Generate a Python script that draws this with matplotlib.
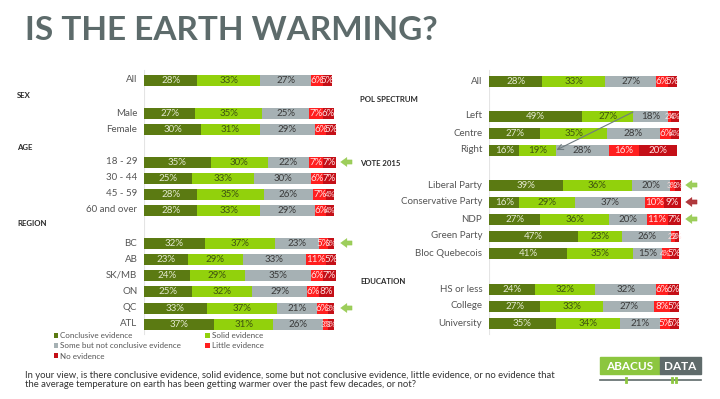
import numpy as np
import matplotlib
matplotlib.use('Agg')
import matplotlib.pyplot as plt

plt.rcParams['font.family'] = ['Lato', 'DejaVu Sans']

# data
series = ['Conclusive evidence', 'Solid evidence', 'Some but not conclusive evidence',
          'Little evidence', 'No evidence']
colors = ['#5b7a12', '#92d10c', '#a6b1b4', '#ff1f1f', '#c40f17']
text_colors = ['#e3e8d0', '#3f5410', '#3a3a3a', '#ffe0e0', '#ffe0e0']

left_groups = ['All', 'Male', 'Female', '18 - 29', '30 - 44', '45 - 59', '60 and over',
               'BC', 'AB', 'SK/MB', 'ON', 'QC', 'ATL']
conclusive_l = [28, 27, 30, 35, 25, 28, 28, 32, 23, 24, 25, 33, 37]
solid_l = [33, 35, 31, 30, 33, 35, 33, 37, 29, 29, 32, 37, 31]
some_l = [27, 25, 29, 22, 30, 26, 29, 23, 33, 35, 29, 21, 26]
little_l = [6, 7, 6, 7, 6, 7, 6, 5, 11, 6, 6, 6, 3]
none_l = [5, 6, 5, 7, 7, 4, 4, 3, 5, 7, 8, 3, 3]

right_groups = ['All', 'Left', 'Centre', 'Right', 'Liberal Party', 'Conservative Party', 'NDP',
                'Green Party', 'Bloc Quebecois', 'HS or less', 'College', 'University']
conclusive_r = [28, 49, 27, 16, 39, 16, 27, 47, 41, 24, 27, 35]
solid_r = [33, 27, 35, 19, 36, 29, 36, 23, 35, 32, 33, 34]
some_r = [27, 18, 28, 28, 20, 37, 20, 26, 15, 32, 27, 21]
little_r = [6, 2, 6, 16, 3, 10, 11, 2, 4, 6, 8, 5]
none_r = [5, 4, 4, 20, 3, 9, 7, 2, 5, 6, 5, 5]

# layout (pixel rows of the 720x399 canvas)
W, H = 720, 399
rows_l = [80, 113, 129, 162, 178, 194, 210, 243, 259, 275, 291, 308, 324]
rows_r = [81, 116, 133, 150, 185, 202, 219, 236, 253, 289, 306, 323]
heads_l = [('SEX', 17, 95), ('AGE', 17, 148), ('REGION', 17, 224)]
heads_r = [('POL SPECTRUM', 360, 100), ('VOTE 2015', 360, 163), ('EDUCATION', 360, 281)]
arrows_l = [('18 - 29', '#8cc63f'), ('BC', '#8cc63f'), ('QC', '#8cc63f')]
arrows_r = [('Liberal Party', '#8cc63f'), ('Conservative Party', '#a3161b'), ('NDP', '#8cc63f')]


def fx(x):
    return x / W


def fy(y):
    return 1 - y / H


fig = plt.figure(figsize=(W / 100, H / 100), dpi=100)
fig.patch.set_facecolor('white')

fig.text(fx(25), fy(30), 'IS THE EARTH WARMING?', fontsize=24, fontweight='bold',
         color='#5d6b6b', va='center', ha='left')


def panel(x0, x1, groups, rows, data, arrows):
    ax = fig.add_axes([fx(x0), fy(340), fx(x1) - fx(x0), (340 - 60) / H])
    ax.set_xlim(0, 100)
    ax.set_ylim(340, 60)
    ax.axis('off')
    ax.plot([0, 0], [70, 334], color='#e4e4e4', lw=0.8, zorder=0)
    left = np.zeros(len(groups))
    handles = []
    for vals, name, c, tc in zip(data, series, colors, text_colors):
        vals = np.array(vals, dtype=float)
        b = ax.barh(rows, vals, left=left, height=11, color=c, label=name,
                    edgecolor='none', clip_on=False)
        handles.append(b)
        for yv, l, v in zip(rows, left, vals):
            fs = 7 if v >= 5 else 5.5
            ax.text(l + v / 2, yv + 0.5, f'{int(v)}%', ha='center', va='center',
                    fontsize=fs, color=tc)
        left += vals
    for g, yv in zip(groups, rows):
        ax.text(-3.5, yv, g, ha='right', va='center', fontsize=7, color='#555555')
    for g, c in arrows:
        yv = rows[groups.index(g)]
        ax.annotate('', xy=(103.5, yv), xytext=(109.5, yv), annotation_clip=False,
                    arrowprops=dict(arrowstyle='simple,head_length=0.45,head_width=0.65,tail_width=0.3',
                                    mutation_scale=10, fc=c, ec=c, lw=0.3, alpha=0.85,
                                    shrinkA=0, shrinkB=0))
    return ax, handles


ax_l, handles = panel(144, 334, left_groups, rows_l,
                      [conclusive_l, solid_l, some_l, little_l, none_l], arrows_l)
ax_r, _ = panel(489, 679, right_groups, rows_r,
                [conclusive_r, solid_r, some_r, little_r, none_r], arrows_r)

# diagonal arrow from Left to Right row
ax_r.annotate('', xy=(35.5, rows_r[3]), xytext=(75.8, 112),
              arrowprops=dict(arrowstyle='->', color='#6f7b80', lw=0.8,
                              shrinkA=0, shrinkB=0))

for t, x, y in heads_l + heads_r:
    fig.text(fx(x), fy(y), t, fontsize=5.6, fontweight='bold', color='#2b2b2b',
             va='center', ha='left')

order = [0, 2, 4, 1, 3]
leg = fig.legend([handles[i] for i in order], [series[i] for i in order],
                 loc='upper left', bbox_to_anchor=(fx(54), fy(332)), ncol=2,
                 frameon=False, fontsize=5.8, handlelength=0.55, handleheight=0.55,
                 handletextpad=0.25, labelspacing=0.42, columnspacing=3.0,
                 borderaxespad=0, borderpad=0)
for t in leg.get_texts():
    t.set_color('#555555')

fig.text(fx(25), fy(375), 'In your view, is there conclusive evidence, solid evidence, some but not '
         'conclusive evidence, little evidence, or no evidence that', fontsize=6.8,
         color='#333333', va='center', ha='left')
fig.text(fx(25), fy(384.5), 'the average temperature on earth has been getting warmer over the '
         'past few decades, or not?', fontsize=6.8, color='#333333', va='center', ha='left')

# logo
lg = fig.add_axes([0, 0, 1, 1])
lg.set_xlim(0, W)
lg.set_ylim(H, 0)
lg.axis('off')
lg.add_patch(plt.Rectangle((600, 357), 60, 17, color='#8cc63f'))
lg.add_patch(plt.Rectangle((660, 357), 41, 17, color='#5f6b6b'))
lg.text(630, 366, 'ABACUS', ha='center', va='center', fontsize=8.5, fontweight='bold', color='white')
lg.text(680.5, 366, 'DATA', ha='center', va='center', fontsize=8.5, fontweight='bold', color='white')
lg.plot([600, 701], [380, 380], color='#5f6b6b', lw=1.2)
lg.plot([626, 626], [378, 382], color='#8cc63f', lw=2)
lg.plot([672, 672], [378, 382], color='#8cc63f', lw=2)
lg.plot([676, 676], [378, 382], color='#8cc63f', lw=2)

fig.savefig('out.png', dpi=100, facecolor='white')
